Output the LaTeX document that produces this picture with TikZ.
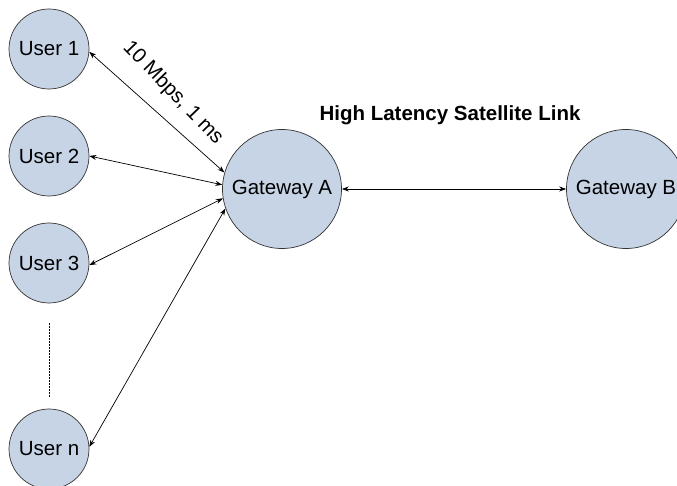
\documentclass[tikz,border=0pt]{standalone}
\usepackage{fontspec}
\setmainfont{Liberation Sans}
\usetikzlibrary{arrows.meta}
\definecolor{nodefill}{RGB}{198,212,230}
\begin{document}
\begin{tikzpicture}[x=1pt,y=-1pt,
  hostnode/.style={circle,draw=black!80,line width=0.7pt,fill=nodefill,minimum size=80pt,inner sep=0pt,font=\fontsize{20.5}{24}\selectfont},
  gwnode/.style={hostnode,minimum size=119pt},
  link/.style={line width=0.7pt,{Stealth[length=7pt,width=5pt]}-{Stealth[length=7pt,width=5pt]}}]
\useasboundingbox (0,0) rectangle (677,486);
\clip (0,0) rectangle (677,486);
\node[hostnode] (u1) at (49,49) {User 1};
\node[hostnode] (u2) at (49,156) {User 2};
\node[hostnode] (u3) at (49,263) {User 3};
\node[hostnode] (un) at (49,449) {User n};
\node[gwnode] (ga) at (282,189) {Gateway A};
\node[gwnode] (gb) at (626,189) {Gateway B};
\coordinate (d1) at (49,323);
\coordinate (d2) at (49,397);
\draw[dashed,line width=0.6pt,dash pattern=on 2pt off 1pt] (d1) -- (d2);
\draw[link] (u1.-4) -- (ga.164);
\draw[link] (u2.0) -- (ga.176);
\draw[link] (u3.-3) -- (ga.189);
\draw[link] (un.3) -- (ga.199);
\draw[link] (ga.east) -- (gb.west);
\node[font=\fontsize{20.5}{24}\selectfont,rotate=-46] (lbl) at (173,93) {10 Mbps, 1 ms};
\node[font=\fontsize{20.5}{24}\selectfont\bfseries] (title) at (450,115) {High Latency Satellite Link};
\end{tikzpicture}
\end{document}
